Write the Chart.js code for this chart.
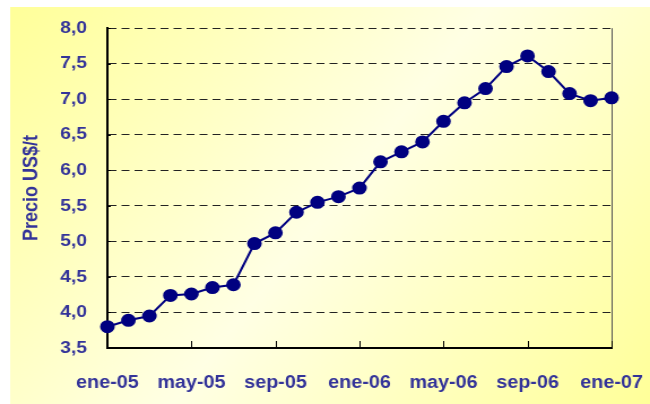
<!DOCTYPE html>
<html>
<head>
<meta charset="utf-8">
<script src="https://cdn.jsdelivr.net/npm/chart.js@4/dist/chart.umd.min.js"></script>
<style>
  html, body { margin: 0; padding: 0; background: #fff; }
  /* the original picture is stretched sideways, so the canvas is drawn narrower and scaled to 650px */
  #chart { display: block; width: 650px; height: 404px; }
</style>
</head>
<body>
<canvas id="chart" width="575" height="404" style="width:650px;height:404px"></canvas>
<script>
// monthly price, ene-05 .. ene-07
const months = ['ene-05', 'feb-05', 'mar-05', 'abr-05', 'may-05', 'jun-05', 'jul-05', 'ago-05',
    'sep-05', 'oct-05', 'nov-05', 'dic-05', 'ene-06', 'feb-06', 'mar-06', 'abr-06', 'may-06',
    'jun-06', 'jul-06', 'ago-06', 'sep-06', 'oct-06', 'nov-06', 'dic-06', 'ene-07'];
const precio = [3.80, 3.89, 3.95, 4.24, 4.26, 4.35, 4.39, 4.97, 5.12, 5.41, 5.55, 5.63, 5.75,
    6.12, 6.26, 6.40, 6.69, 6.95, 7.15, 7.46, 7.61, 7.39, 7.08, 6.98, 7.02];
const labelEvery = 4;
const yTitle = 'Precio US$/t';

const textColor = '#333399';
const navy = '#000080';
const fontFamily = 'Liberation Sans, Arial, sans-serif';

const backgroundPlugin = {
    id: 'bg',
    beforeDraw(chart) {
        const ctx = chart.ctx;
        ctx.save();
        ctx.fillStyle = '#fff';
        ctx.fillRect(0, 0, chart.width, chart.height);
        const g = ctx.createLinearGradient(9, 7, chart.width, chart.height);
        g.addColorStop(0, '#ffff99');
        g.addColorStop(0.5, '#ffffe4');
        g.addColorStop(1, '#ffff99');
        ctx.fillStyle = g;
        ctx.fillRect(9, 7, chart.width - 9, chart.height - 7);
        ctx.restore();
    }
};

// small inward tick marks and the right frame line
const frameTicksPlugin = {
    id: 'frameTicks',
    beforeDatasetsDraw(chart) {
        const { ctx, chartArea } = chart;
        const x = chart.scales.x, y = chart.scales.y;
        ctx.save();
        ctx.strokeStyle = '#555';
        ctx.lineWidth = 1;
        ctx.beginPath();
        ctx.moveTo(chartArea.right + 0.5, chartArea.top);
        ctx.lineTo(chartArea.right + 0.5, chartArea.bottom);
        ctx.stroke();

        ctx.strokeStyle = '#000';
        ctx.beginPath();
        months.forEach((m, i) => {
            if (i % labelEvery !== 0) return;
            const px = Math.round(x.getPixelForValue(i)) + 0.5;
            ctx.moveTo(px, chartArea.bottom);
            ctx.lineTo(px, chartArea.bottom - 7);
        });
        y.ticks.forEach(t => {
            const py = Math.round(y.getPixelForValue(t.value)) + 0.5;
            ctx.moveTo(chartArea.left, py);
            ctx.lineTo(chartArea.left + 3, py);
        });
        ctx.stroke();
        ctx.restore();
    }
};

new Chart(document.getElementById('chart'), {
    type: 'line',
    data: {
        labels: months,
        datasets: [{
            data: precio,
            borderColor: navy,
            backgroundColor: navy,
            borderWidth: 2,
            pointRadius: 5.5,
            pointHoverRadius: 5.5,
            pointBackgroundColor: navy,
            pointBorderColor: navy,
            tension: 0,
            clip: false
        }]
    },
    options: {
        responsive: false,
        animation: false,
        devicePixelRatio: 1,
        layout: { padding: { left: 0, top: 28, right: 34, bottom: 0 } },
        plugins: {
            legend: { display: false },
            tooltip: { enabled: false }
        },
        scales: {
            x: {
                grid: { display: false, drawTicks: false },
                border: { display: true, color: '#000', width: 2 },
                afterFit: s => {
                    s.height = 56;
                    s.paddingLeft = 0;
                    s.paddingRight = 0;
                },
                ticks: {
                    autoSkip: false,
                    maxRotation: 0,
                    padding: 25,
                    color: textColor,
                    font: { family: fontFamily, size: 17.5, weight: 'bold' },
                    callback: (v, i) => (i % labelEvery === 0 ? months[i] : '')
                }
            },
            y: {
                min: 3.5,
                max: 8.0,
                afterFit: s => { s.width = 95; },
                grid: { color: '#222', lineWidth: 1, drawTicks: false },
                border: { display: true, color: '#000', width: 2, dash: [7, 4.5] },
                ticks: {
                    stepSize: 0.5,
                    padding: 18,
                    color: textColor,
                    font: { family: fontFamily, size: 17, weight: 'bold' },
                    callback: v => v.toFixed(1).replace('.', ',')
                },
                title: {
                    display: true,
                    text: yTitle,
                    color: textColor,
                    padding: { top: 17, bottom: 0 },
                    font: { family: fontFamily, size: 18, weight: 'bold' }
                }
            }
        }
    },
    plugins: [backgroundPlugin, frameTicksPlugin]
});
</script>
</body>
</html>
